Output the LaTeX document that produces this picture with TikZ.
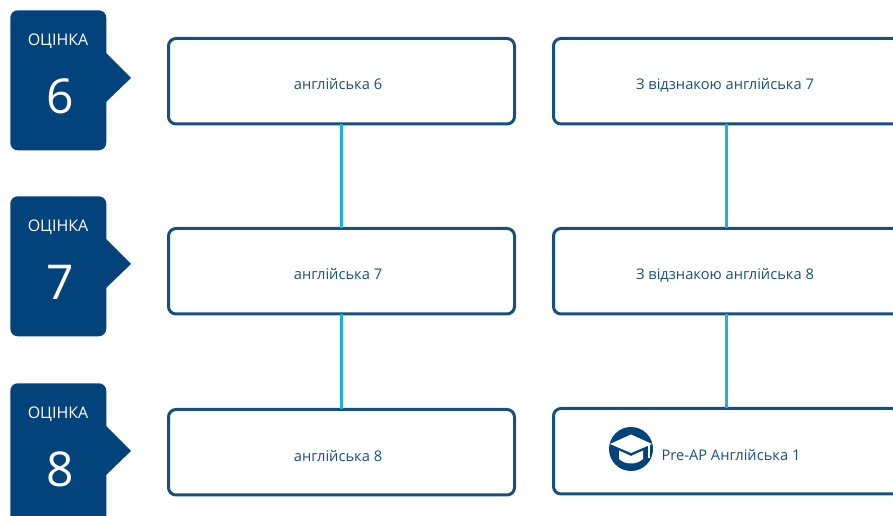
\documentclass[tikz,border=0pt]{standalone}
\usepackage{fontspec}
\setmainfont{Open Sans}
\definecolor{navy}{HTML}{03437C}
\definecolor{boxline}{HTML}{16507F}
\definecolor{cyanline}{HTML}{1CB1E0}
\definecolor{txt}{HTML}{1A4F84}
\tikzset{
  coursebox/.style={draw=boxline,line width=3*0.75pt,rounded corners=7.5*0.75pt,fill=white,minimum width=346*0.75pt,minimum height=85.5*0.75pt,outer sep=0pt,inner sep=0pt,anchor=north west},
  link/.style={draw=cyanline,line width=3*0.75pt},
  tab/.style={fill=navy,rounded corners=7.5*0.75pt,minimum width=96*0.75pt,minimum height=140*0.75pt,inner sep=0pt,anchor=north west},
  point/.style={fill=navy},
  course/.style={text=txt,font=\fontsize{11pt}{13pt}\selectfont,inner sep=0pt,anchor=base},
  gradeword/.style={text=white,font=\fontsize{12pt}{14pt}\selectfont,inner sep=0pt},
  gradenum/.style={text=white,font=\fontsize{36pt}{40pt}\selectfont,inner sep=0pt}
}
\begin{document}
\begin{tikzpicture}[x=0.75pt,y=-0.75pt]
\useasboundingbox (0,0) rectangle (893,516);
\clip (0,0) rectangle (893,516);
% tabs
\foreach \n/\y in {6/10,7/196,8/383}{
  \fill[point] (105,\y+42) -- (131,\y+68) -- (105,\y+93) -- cycle;
  \node[tab] (tab\n) at (10,\y) {};
  \node[gradeword] (word\n) at (58,\y+31) {ОЦІНКА};
  \node[gradenum] (num\n) at (60,\y+86) {\n};
}
% boxes
\node[coursebox] (a) at (168.5,38.5) {};
\node[coursebox] (b) at (553.5,38.5) {};
\node[coursebox] (c) at (168.5,228.5) {};
\node[coursebox] (d) at (553.5,228.5) {};
\node[coursebox] (e) at (168.5,409.5) {};
\node[coursebox] (f) at (553.5,408.5) {};
% connectors
\draw[link] (a) -- (c);
\draw[link] (c) -- (e);
\draw[link] (b) -- (d);
\draw[link] (d) -- (f);
% labels
\node[course] (ta) at (338,90) {англійська 6};
\node[course] (tb) at (725,90) {З відзнакою англійська 7};
\node[course] (tc) at (338,280) {англійська 7};
\node[course] (td) at (725,280) {З відзнакою англійська 8};
\node[course] (te) at (338,462) {англійська 8};
\node[course] (tf) at (731,461) {Pre-AP Англійська 1};
% icon
\fill[navy] (631,449) circle (22);
\fill[white] (631,434.5) -- (652,444) -- (631,453) -- (610,444) -- cycle;
\fill[white] (619,450.5) -- (631,456) -- (643,450.5) -- (643,459) .. controls (637,465) and (625,465) .. (619,459) -- cycle;
\draw[white,line width=0.9pt] (649,445) -- (649,458);
\end{tikzpicture}
\end{document}
